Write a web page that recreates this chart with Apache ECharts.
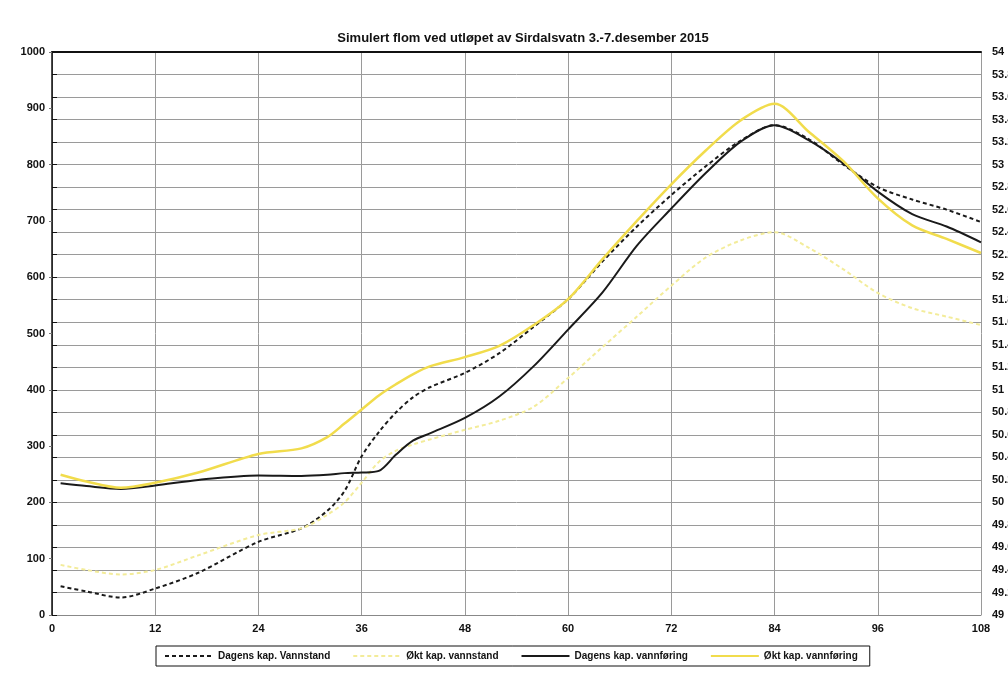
<!DOCTYPE html>
<html>
<head>
<meta charset="utf-8">
<title>Simulert flom</title>
<script src="https://cdn.jsdelivr.net/npm/echarts@6/dist/echarts.min.js"></script>
<style>
  html, body { margin: 0; padding: 0; background: #fff; }
  #main { width: 1008px; height: 674px; }
</style>
</head>
<body>
<div id="main"></div>
<script>
// hours since start (x axis)
var hours = [1, 4, 8, 12, 17, 24, 29, 32, 34, 36, 38, 40, 42, 44, 48, 52, 56, 60, 64, 68, 72, 76, 80, 84, 88, 92, 96, 100, 104, 108];

// water level (m, right axis)
var dagensVannstand = [49.255, 49.21, 49.155, 49.235, 49.375, 49.65, 49.77, 49.925, 50.1, 50.41, 50.625, 50.8, 50.935, 51.025, 51.15, 51.325, 51.56, 51.805, 52.14, 52.45, 52.73, 52.985, 53.21, 53.35, 53.225, 53.0, 52.8, 52.69, 52.6, 52.49];
var oktVannstand = [49.445, 49.4, 49.36, 49.4, 49.53, 49.71, 49.77, 49.89, 50.0, 50.175, 50.36, 50.46, 50.515, 50.56, 50.645, 50.725, 50.85, 51.105, 51.38, 51.65, 51.925, 52.175, 52.325, 52.4, 52.26, 52.07, 51.86, 51.725, 51.65, 51.575];

// discharge (m3/s, left axis)
var dagensVannforing = [234, 229, 224, 230, 240, 248, 247, 249, 252, 253, 256, 285, 310, 323, 350, 388, 442, 507, 573, 656, 722, 785, 840, 870, 843, 802, 752, 712, 690, 662];
var oktVannforing = [249, 237, 226, 235, 253, 286, 296, 316, 340, 365, 390, 410, 428, 442, 458, 478, 515, 561, 632, 700, 765, 825, 878, 908, 858, 806, 740, 692, 668, 643];

var seriesNames = ['Dagens kap. Vannstand', 'Økt kap. vannstand', 'Dagens kap. vannføring', 'Økt kap. vannføring'];

function pairs(vals) {
    return hours.map(function (h, i) { return [h, vals[i]]; });
}

var labelFont = {
    color: '#111',
    fontFamily: 'Liberation Sans, Arial, sans-serif',
    fontWeight: 'bold',
    fontSize: 11
};

var chart = echarts.init(document.getElementById('main'));

chart.setOption({
    animation: false,
    backgroundColor: '#fff',
    title: {
        text: 'Simulert flom ved utløpet av Sirdalsvatn 3.-7.desember 2015',
        left: 518,
        textAlign: 'center',
        top: 27,
        textStyle: {
            color: '#111',
            fontFamily: 'Liberation Sans, Arial, sans-serif',
            fontWeight: 'bold',
            fontSize: 13
        }
    },
    grid: {
        left: 52,
        right: 27,
        top: 52,
        bottom: 59,
        outerBoundsMode: 'none'
    },
    legend: {
        data: seriesNames,
        left: 156,
        top: 646,
        itemWidth: 48,
        itemHeight: 10,
        itemGap: 22,
        padding: [5, 12, 5, 8],
        borderColor: '#111',
        borderWidth: 1,
        itemStyle: { opacity: 0 },
        textStyle: {
            color: '#111',
            fontFamily: 'Liberation Sans, Arial, sans-serif',
            fontWeight: 'bold',
            fontSize: 10
        }
    },
    xAxis: [
        {
            type: 'value',
            min: 0,
            max: 108,
            interval: 12,
            axisLine: { show: true, lineStyle: { color: '#888', width: 1 } },
            axisTick: { show: false },
            axisLabel: Object.assign({ margin: 8 }, labelFont),
            splitLine: { show: true, lineStyle: { color: '#9a9a9a', width: 1 } }
        },
        {
            type: 'value',
            position: 'top',
            min: 0,
            max: 108,
            axisLine: { show: true, onZero: false, lineStyle: { color: '#111', width: 2 } },
            axisTick: { show: false },
            axisLabel: { show: false },
            splitLine: { show: false }
        }
    ],
    yAxis: [
        {
            type: 'value',
            min: 0,
            max: 1000,
            interval: 100,
            axisLine: { show: true, lineStyle: { color: '#777', width: 1 } },
            axisTick: { show: true, length: 3, lineStyle: { color: '#777' } },
            axisLabel: Object.assign({
                margin: 7,
                formatter: function (v) { return String(v); }
            }, labelFont),
            splitLine: { show: false }
        },
        {
            type: 'value',
            position: 'right',
            min: 49,
            max: 54,
            interval: 0.2,
            axisLine: { show: true, lineStyle: { color: '#111', width: 1.5 } },
            axisTick: { show: true, length: 5, lineStyle: { color: '#111' } },
            axisLabel: Object.assign({
                margin: 11,
                formatter: function (v) { return String(+v.toFixed(1)); }
            }, labelFont),
            splitLine: { show: true, lineStyle: { color: '#9a9a9a', width: 1 } }
        }
    ],
    series: [
        {
            name: seriesNames[0],
            type: 'line',
            yAxisIndex: 1,
            smooth: 0.3,
            symbol: 'none',
            data: pairs(dagensVannstand),
            lineStyle: { color: '#1a1a1a', width: 2, type: [4, 3] },
            itemStyle: { color: '#1a1a1a' }
        },
        {
            name: seriesNames[1],
            type: 'line',
            yAxisIndex: 1,
            smooth: 0.3,
            symbol: 'none',
            data: pairs(oktVannstand),
            lineStyle: { color: '#f3ec9a', width: 2, type: [4, 3] },
            itemStyle: { color: '#f3ec9a' }
        },
        {
            name: seriesNames[2],
            type: 'line',
            yAxisIndex: 0,
            smooth: 0.3,
            symbol: 'none',
            data: pairs(dagensVannforing),
            lineStyle: { color: '#1a1a1a', width: 2 },
            itemStyle: { color: '#1a1a1a' }
        },
        {
            name: seriesNames[3],
            type: 'line',
            yAxisIndex: 0,
            smooth: 0.3,
            symbol: 'none',
            data: pairs(oktVannforing),
            lineStyle: { color: '#f1dc4c', width: 2.5 },
            itemStyle: { color: '#f1dc4c' }
        }
    ]
});
</script>
</body>
</html>
